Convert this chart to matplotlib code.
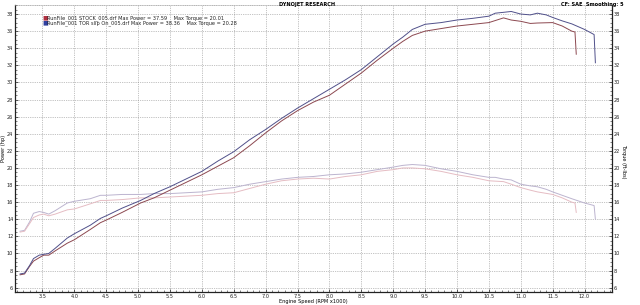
import matplotlib
matplotlib.use("Agg")
import matplotlib.pyplot as plt
from matplotlib.ticker import MultipleLocator

# engine speed (RPM x1000) and readings for the two runs
rpm_tor = [3.15, 3.22, 3.30, 3.36, 3.45, 3.52, 3.60, 3.70, 3.89, 4.00, 4.25, 4.41, 4.50, 4.75,
           5.04, 5.25, 5.50, 5.75, 6.00, 6.25, 6.50, 6.75, 7.00, 7.25, 7.50, 7.75, 8.00, 8.25,
           8.50, 8.75, 9.00, 9.15, 9.30, 9.50, 9.75, 10.00, 10.25, 10.50, 10.60, 10.73, 10.85,
           11.00, 11.15, 11.26, 11.40, 11.50, 11.65, 11.80, 12.00, 12.15, 12.17]
power_tor = [7.6, 7.7, 8.6, 9.4, 9.8, 9.9, 10.0, 10.6, 11.8, 12.3, 13.3, 14.1, 14.4, 15.3,
             16.2, 17.0, 17.8, 18.7, 19.6, 20.8, 21.9, 23.3, 24.5, 25.8, 27.0, 28.1, 29.2, 30.3,
             31.5, 33.0, 34.5, 35.3, 36.2, 36.8, 37.0, 37.3, 37.5, 37.75, 38.1, 38.2, 38.3,
             38.0, 37.9, 38.1, 37.9, 37.6, 37.2, 36.85, 36.2, 35.6, 32.3]
torque_tor = [12.6, 12.7, 13.7, 14.7, 14.9, 14.8, 14.6, 15.0, 15.9, 16.1, 16.4, 16.8, 16.8, 16.9,
              16.9, 17.0, 17.0, 17.1, 17.2, 17.5, 17.7, 18.1, 18.4, 18.7, 18.9, 19.0, 19.2, 19.3,
              19.5, 19.8, 20.1, 20.3, 20.4, 20.3, 19.9, 19.6, 19.2, 18.9, 18.9, 18.7, 18.6,
              18.1, 17.9, 17.8, 17.5, 17.2, 16.8, 16.4, 15.9, 15.6, 14.0]

rpm_stock = [3.15, 3.22, 3.30, 3.36, 3.45, 3.52, 3.60, 3.70, 3.89, 4.00, 4.25, 4.41, 4.50, 4.75,
             5.04, 5.25, 5.50, 5.75, 6.00, 6.25, 6.50, 6.75, 7.00, 7.25, 7.50, 7.75, 8.00, 8.25,
             8.50, 8.75, 9.00, 9.15, 9.30, 9.50, 9.75, 10.00, 10.25, 10.50, 10.73, 10.85, 11.00,
             11.15, 11.26, 11.50, 11.65, 11.80, 11.85, 11.87]
power_stock = [7.5, 7.6, 8.5, 9.1, 9.5, 9.8, 9.8, 10.3, 11.2, 11.6, 12.8, 13.6, 13.9, 14.8,
               15.9, 16.5, 17.4, 18.3, 19.2, 20.2, 21.2, 22.6, 24.1, 25.5, 26.7, 27.7, 28.5, 29.8,
               31.1, 32.6, 34.0, 34.8, 35.5, 36.0, 36.3, 36.6, 36.8, 37.0, 37.55, 37.3, 37.15,
               36.9, 36.95, 37.0, 36.6, 36.0, 35.9, 33.3]
torque_stock = [12.5, 12.6, 13.5, 14.2, 14.5, 14.6, 14.4, 14.6, 15.1, 15.2, 15.8, 16.2, 16.2, 16.3,
                16.5, 16.5, 16.6, 16.7, 16.8, 17.0, 17.1, 17.6, 18.1, 18.5, 18.7, 18.8, 18.7, 19.0,
                19.2, 19.6, 19.8, 20.0, 20.0, 19.9, 19.6, 19.2, 18.9, 18.5, 18.4, 18.1, 17.7,
                17.4, 17.2, 16.9, 16.5, 16.0, 15.9, 14.8]

legend_lines = ["RunFile_001 STOCK_005.drf Max Power = 37.59    Max Torque = 20.01",
                "RunFile_001 TOR slip On_005.drf Max Power = 38.36    Max Torque = 20.28"]
x_ticks = [3.5, 4.0, 4.5, 5.0, 5.5, 6.0, 6.5, 7.0, 7.5, 8.0, 8.5, 9.0, 9.5, 10.0, 10.5, 11.0,
           11.5, 12.0]
y_ticks = [6, 8, 10, 12, 14, 16, 18, 20, 22, 24, 26, 28, 30, 32, 34, 36, 38]

FS = 3.6
fig = plt.figure(figsize=(6.4, 3.05), dpi=100)
ax = fig.add_axes([0.0234, 0.0426, 0.9328, 0.9394])

ax.plot(rpm_tor, torque_tor, color="#bcb4cf", lw=0.7)
ax.plot(rpm_stock, torque_stock, color="#e5bcc3", lw=0.7)
ax.plot(rpm_stock, power_stock, color="#8c4850", lw=0.7)
ax.plot(rpm_tor, power_tor, color="#50508a", lw=0.7)

ax.set_xlim(3.07, 12.43)
ax.set_ylim(5.49, 39.0)
ax.set_xticks(x_ticks)
ax.set_xticklabels(["%.1f" % t for t in x_ticks])
ax.set_yticks(y_ticks)
ax.xaxis.set_minor_locator(MultipleLocator(0.1))
ax.yaxis.set_minor_locator(MultipleLocator(0.5))
ax.grid(True, which="major", color="#8a8a8a", ls=(0, (1, 1.6)), lw=0.5)

ax.tick_params(which="both", direction="in", labelsize=FS, pad=1.2, colors="#222222",
               right=True, labelright=True)
ax.tick_params(which="major", length=2, width=0.5)
ax.tick_params(which="minor", length=1.2, width=0.4)
for side in ["left", "bottom", "right"]:
    ax.spines[side].set_color("#222222")
    ax.spines[side].set_linewidth(0.9)
ax.spines["top"].set_color("#999999")
ax.spines["top"].set_linestyle((0, (1, 1.6)))
ax.spines["top"].set_linewidth(0.5)

ax.set_xlabel("Engine Speed (RPM x1000)", fontsize=FS, labelpad=0.5)
ax.set_ylabel("Power (hp)", fontsize=FS, labelpad=0.5)
fig.text(0.975, 0.47, "Torque (ft-lbs)", fontsize=FS, rotation=-90, ha="center", va="center")

fig.text(0.48, 0.985, "DYNOJET RESEARCH", fontsize=FS, weight="bold", ha="center", va="center")
fig.text(0.975, 0.985, "CF: SAE  Smoothing: 5", fontsize=FS, weight="bold", ha="right", va="center")

# legend block with coloured squares
for i, (txt, col) in enumerate(zip(legend_lines, ["#b03040", "#3040a0"])):
    y = 0.94 - i * 0.016
    fig.text(0.066, y, "\u25a0", color=col, fontsize=FS + 0.8, ha="left", va="center")
    fig.text(0.073, y, txt, fontsize=FS, ha="left", va="center", color="#222222")

fig.savefig("out.png", dpi=100)
